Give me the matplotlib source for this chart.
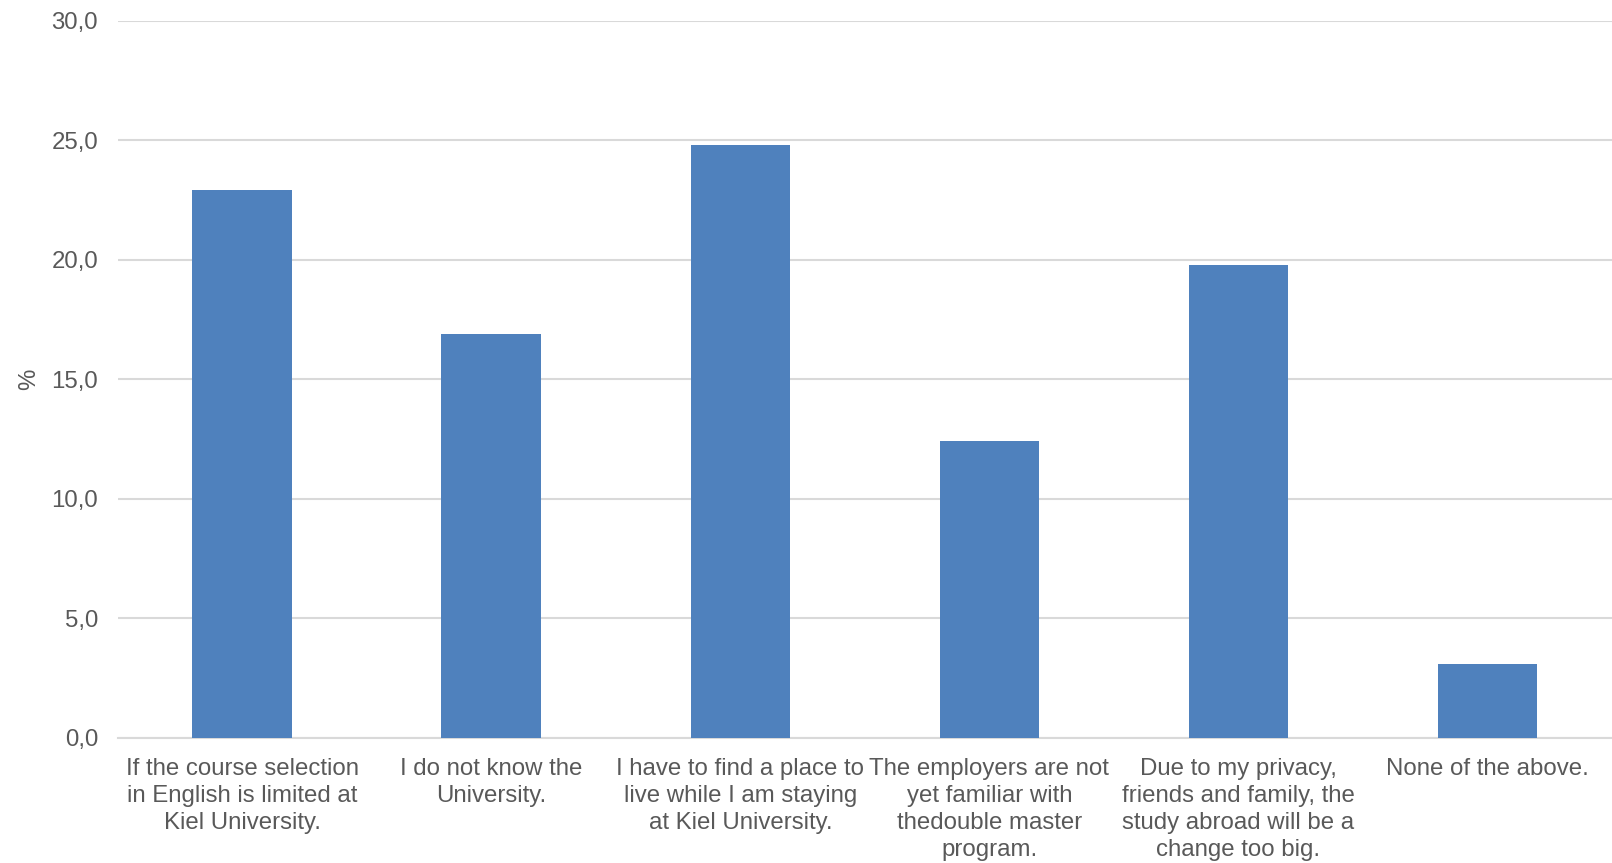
import numpy as np
import matplotlib.pyplot as plt

categories = ["If the course selection\nin English is limited at\nKiel University.",
              "I do not know the\nUniversity.",
              "I have to find a place to\nlive while I am staying\nat Kiel University.",
              "The employers are not\nyet familiar with\nthedouble master\nprogram.",
              "Due to my privacy,\nfriends and family, the\nstudy abroad will be a\nchange too big.",
              "None of the above."]
values = [22.9, 16.9, 24.8, 12.4, 19.8, 3.1]
yticks = [0, 5, 10, 15, 20, 25, 30]

plt.rcParams['font.family'] = ['Liberation Sans', 'DejaVu Sans']
txt = '#595959'

fig = plt.figure(figsize=(16.12, 8.63), dpi=100)
ax = fig.add_axes([0.073, 0.145, 0.927, 0.831])

x = np.arange(len(categories))
ax.bar(x, values, width=0.4, color='#4f81bd', zorder=3)

ax.set_xlim(-0.5, len(categories) - 0.5)
ax.set_ylim(0, 30)
ax.set_yticks(yticks)
ax.set_yticklabels([f"{v:.1f}".replace('.', ',') for v in yticks])
ax.set_xticks(x)
ax.set_xticklabels(categories, linespacing=1.29)

ax.grid(axis='y', color='#d9d9d9', linewidth=1.5, zorder=0)
for s in ['top', 'right', 'left']:
    ax.spines[s].set_visible(False)
ax.spines['bottom'].set_color('#d9d9d9')
ax.spines['bottom'].set_linewidth(1.5)

ax.tick_params(axis='both', length=0, labelsize=17.3, labelcolor=txt)
ax.tick_params(axis='x', pad=14.5)
ax.tick_params(axis='y', pad=14)
ax.set_ylabel('%', fontsize=17.3, color=txt, labelpad=8)

fig.savefig('out.png', dpi=100)
